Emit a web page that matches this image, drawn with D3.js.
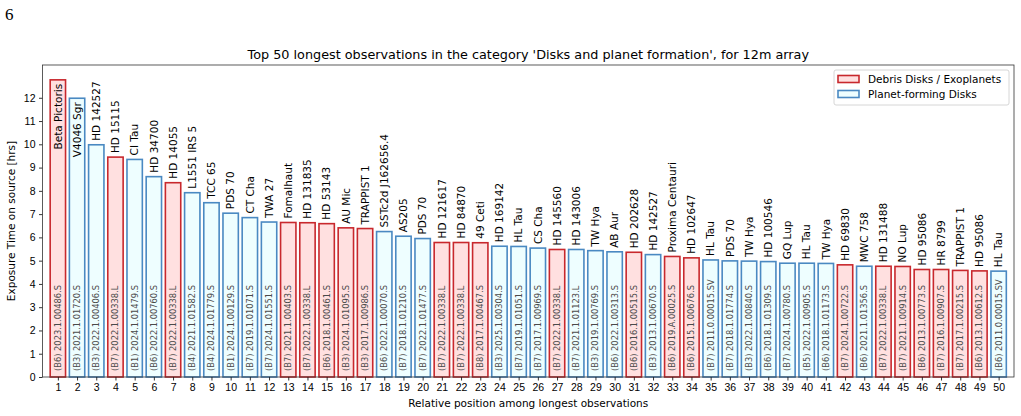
<!DOCTYPE html>
<html>
<head>
<meta charset="utf-8">
<script src="https://cdn.jsdelivr.net/npm/d3@7"></script>
<style>
  body { margin: 0; background: #fff; }
  svg { font-family: "DejaVu Sans", sans-serif; }
</style>
</head>
<body>
<div id="chart"></div>
<script>
// --- data ---
const positions = d3.range(1, 51);

const targets = [
  'Beta Pictoris', 'V4046 Sgr', 'HD 142527', 'HD 15115', 'CI Tau', 'HD 34700', 'HD 14055',
  'L1551 IRS 5', 'TCC 65', 'PDS 70', 'CT Cha', 'TWA 27', 'Fomalhaut', 'HD 131835',
  'HD 53143', 'AU Mic', 'TRAPPIST 1', 'SSTc2d J162656.4', 'AS205', 'PDS 70',
  'HD 121617', 'HD 84870', '49 Ceti', 'HD 169142', 'HL Tau', 'CS Cha', 'HD 145560',
  'HD 143006', 'TW Hya', 'AB Aur', 'HD 202628', 'HD 142527', 'Proxima Centauri',
  'HD 102647', 'HL Tau', 'PDS 70', 'TW Hya', 'HD 100546', 'GQ Lup', 'HL Tau',
  'TW Hya', 'HD 69830', 'MWC 758', 'HD 131488', 'NO Lup', 'HD 95086', 'HR 8799',
  'TRAPPIST 1', 'HD 95086', 'HL Tau'
];

const projects = [
  '(B6) 2023.1.00486.S', '(B3) 2021.1.01720.S', '(B3) 2022.1.00406.S', '(B7) 2022.1.00338.L',
  '(B1) 2024.1.01479.S', '(B6) 2022.1.00760.S', '(B7) 2022.1.00338.L', '(B4) 2021.1.01582.S',
  '(B4) 2024.1.01779.S', '(B1) 2024.1.00129.S', '(B7) 2019.1.01071.S', '(B7) 2024.1.01551.S',
  '(B7) 2021.1.00403.S', '(B7) 2022.1.00338.L', '(B6) 2018.1.00461.S', '(B3) 2024.1.01095.S',
  '(B3) 2017.1.00986.S', '(B6) 2022.1.00070.S', '(B7) 2018.1.01210.S', '(B7) 2022.1.01477.S',
  '(B7) 2022.1.00338.L', '(B7) 2022.1.00338.L', '(B8) 2017.1.00467.S', '(B3) 2025.1.00304.S',
  '(B7) 2019.1.01051.S', '(B7) 2017.1.00969.S', '(B7) 2022.1.00338.L', '(B7) 2021.1.01123.L',
  '(B3) 2019.1.00769.S', '(B6) 2022.1.00313.S', '(B6) 2016.1.00515.S', '(B3) 2013.1.00670.S',
  '(B6) 2019.A.00025.S', '(B6) 2015.1.00676.S', '(B7) 2011.0.00015.SV', '(B7) 2018.1.01774.S',
  '(B3) 2022.1.00840.S', '(B6) 2018.1.01309.S', '(B7) 2024.1.00780.S', '(B5) 2022.1.00905.S',
  '(B6) 2018.1.01173.S', '(B7) 2024.1.00722.S', '(B6) 2021.1.01356.S', '(B7) 2022.1.00338.L',
  '(B7) 2021.1.00914.S', '(B6) 2013.1.00773.S', '(B7) 2016.1.00907.S', '(B7) 2017.1.00215.S',
  '(B6) 2013.1.00612.S', '(B6) 2011.0.00015.SV'
];

const hours = [
  12.77, 11.98, 9.98, 9.45, 9.35, 8.61, 8.35, 7.92, 7.49, 7.04,
  6.85, 6.66, 6.64, 6.63, 6.59, 6.41, 6.38, 6.25, 6.05, 5.95,
  5.78, 5.78, 5.77, 5.62, 5.61, 5.54, 5.48, 5.48, 5.43, 5.38,
  5.36, 5.26, 5.18, 5.12, 5.03, 4.99, 4.98, 4.96, 4.89, 4.89,
  4.88, 4.82, 4.76, 4.76, 4.75, 4.62, 4.62, 4.58, 4.56, 4.55
];

// D = Debris Disks / Exoplanets, P = Planet-forming Disks
const kinds = [
  'D', 'P', 'P', 'D', 'P', 'P', 'D', 'P', 'P', 'P',
  'P', 'P', 'D', 'D', 'D', 'D', 'D', 'P', 'P', 'P',
  'D', 'D', 'D', 'P', 'P', 'P', 'D', 'P', 'P', 'P',
  'D', 'P', 'D', 'D', 'P', 'P', 'P', 'P', 'P', 'P',
  'P', 'D', 'P', 'D', 'D', 'D', 'D', 'D', 'D', 'P'
];

const categories = ['Debris Disks / Exoplanets', 'Planet-forming Disks'];
const yTicks = d3.range(0, 13);

const title = "Top 50 longest observations in the category 'Disks and planet formation', for 12m array";

const data = positions.map((p, i) => ({
  pos: p, name: targets[i], code: projects[i], h: hours[i], kind: kinds[i]
}));

// --- layout ---
const W = 1021, H = 416;
const margin = {top: 65, right: 7, bottom: 39, left: 42.5};
const width = W - margin.left - margin.right;
const height = H - margin.top - margin.bottom;

const fillC = {D: '#ffe0e0', P: '#eefeff'};
const strokeC = {D: '#c8282d', P: '#4a89c2'};

const x = d3.scaleLinear().domain([0.2, 50.8]).range([0, width]);
const y = d3.scaleLinear().domain([0, d3.max(hours) * 1.05]).range([height, 0]);
const bw = x(1.8) - x(1);

const svg = d3.select('#chart').append('svg')
  .attr('width', W)
  .attr('height', H);

// page number
svg.append('text')
  .attr('x', 5).attr('y', 20)
  .style('font-family', '"Liberation Serif", serif')
  .style('font-size', '17px')
  .text('6');

svg.append('text')
  .attr('x', margin.left + width / 2)
  .attr('y', 59)
  .attr('text-anchor', 'middle')
  .style('font-size', '12.8px')
  .text(title);

const g = svg.append('g')
  .attr('transform', `translate(${margin.left},${margin.top})`);

// bars
g.append('g').selectAll('rect')
  .data(data)
  .enter().append('rect')
    .attr('x', d => x(d.pos) - bw / 2)
    .attr('y', d => y(d.h))
    .attr('width', bw)
    .attr('height', d => y(0) - y(d.h))
    .style('fill', d => fillC[d.kind])
    .style('stroke', d => strokeC[d.kind])
    .style('stroke-width', 1.6);

// project codes at the bottom of each bar
g.append('g').selectAll('text')
  .data(data)
  .enter().append('text')
    .attr('transform', d => `translate(${x(d.pos)},${y(0) - 6}) rotate(-90)`)
    .attr('dy', '0.35em')
    .style('font-size', '8.3px')
    .style('fill', '#4a4a4a')
    .text(d => d.code);

// target names: above the bar, or inside if it would not fit
const names = g.append('g').selectAll('text')
  .data(data)
  .enter().append('text')
    .attr('dy', '0.35em')
    .style('font-size', '10.5px')
    .text(d => d.name);

names.each(function(d) {
  const len = this.getComputedTextLength();
  const top = y(d.h);
  const t = d3.select(this);
  if (top - 4 - len < 0) {
    t.attr('transform', `translate(${x(d.pos)},${top + 4}) rotate(-90)`)
      .attr('text-anchor', 'end');
  } else {
    t.attr('transform', `translate(${x(d.pos)},${top - 4}) rotate(-90)`)
      .attr('text-anchor', 'start');
  }
});

// axes
const xAxis = g.append('g')
  .attr('transform', `translate(0,${height})`)
  .call(d3.axisBottom(x).tickValues(positions).tickFormat(d3.format('d')).tickSizeOuter(0).tickSize(3.5).tickPadding(3.5));
const yAxis = g.append('g')
  .call(d3.axisLeft(y).tickValues(yTicks).tickSizeOuter(0).tickSize(3.5).tickPadding(3.5));

[xAxis, yAxis].forEach(a => {
  a.selectAll('text').style('font-size', '10.5px').style('fill', '#000');
  a.selectAll('line').style('stroke', '#000').style('stroke-width', 0.8);
  a.select('.domain').remove();
});

// frame
g.append('rect')
  .attr('width', width).attr('height', height)
  .style('fill', 'none')
  .style('stroke', '#333')
  .style('stroke-width', 0.8);

svg.append('text')
  .attr('x', margin.left + width / 2)
  .attr('y', 407)
  .attr('text-anchor', 'middle')
  .style('font-size', '10.5px')
  .text('Relative position among longest observations');

svg.append('text')
  .attr('transform', `translate(15,${margin.top + height / 2}) rotate(-90)`)
  .attr('text-anchor', 'middle')
  .style('font-size', '10.5px')
  .text('Exposure Time on source [hrs]');

// legend
const lg = g.append('g').attr('transform', `translate(${width - 180},5)`);
lg.append('rect')
  .attr('width', 175).attr('height', 35)
  .attr('rx', 2)
  .style('fill', 'rgba(255,255,255,0.8)')
  .style('stroke', '#cccccc')
  .style('stroke-width', 0.8);

const items = lg.selectAll('g.item')
  .data(categories)
  .enter().append('g')
    .attr('class', 'item')
    .attr('transform', (d, i) => `translate(0,${9 + i * 15})`);

items.append('rect')
  .attr('x', 4).attr('y', -3.5)
  .attr('width', 21).attr('height', 7)
  .style('fill', (d, i) => fillC[i === 0 ? 'D' : 'P'])
  .style('stroke', (d, i) => strokeC[i === 0 ? 'D' : 'P'])
  .style('stroke-width', 1.6);

items.append('text')
  .attr('x', 34)
  .attr('dy', '0.35em')
  .style('font-size', '10.5px')
  .text(d => d);
</script>
</body>
</html>
